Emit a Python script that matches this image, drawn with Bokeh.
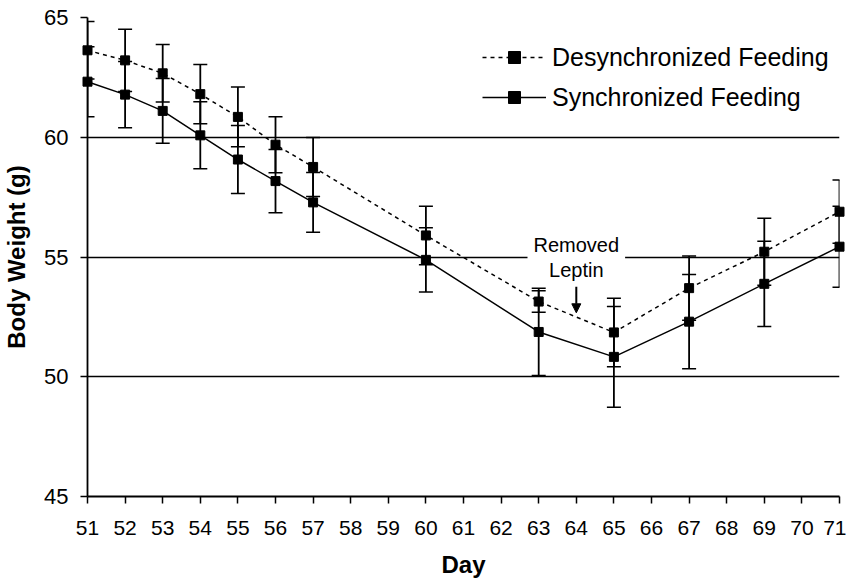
from bokeh.plotting import figure
from bokeh.models import (Range1d, FixedTicker, ColumnDataSource, Whisker,
                          TeeHead, Legend, LegendItem, Label, Arrow, NormalHead)
from bokeh.embed import file_html
from bokeh.resources import INLINE

days = [51, 52, 53, 54, 55, 56, 57, 60, 63, 65, 67, 69, 71]
desync = [63.63, 63.21, 62.67, 61.80, 60.85, 59.69, 58.76, 55.90, 53.14, 51.85, 53.70, 55.22, 56.89]
desync_err = [1.20, 1.30, 1.20, 1.24, 1.25, 1.17, 1.23, 1.22, 0.45, 1.43, 1.34, 1.40, 1.32]
sync = [62.32, 61.78, 61.10, 60.08, 59.07, 58.17, 57.28, 54.88, 51.87, 50.83, 52.30, 53.88, 55.43]
sync_err = [1.46, 1.38, 1.35, 1.40, 1.42, 1.32, 1.25, 1.34, 1.82, 2.10, 1.97, 1.78, 1.69]

x_ticks = list(range(51, 72))
y_ticks = [45, 50, 55, 60, 65]

FONT = "Liberation Sans"

p = figure(width=846, height=584,
           x_range=Range1d(x_ticks[0], x_ticks[-1]), y_range=Range1d(y_ticks[0], y_ticks[-1]),
           output_backend="svg", toolbar_location=None,
           min_border_left=81, min_border_right=7, min_border_top=17, min_border_bottom=88)
p.outline_line_color = None
p.xgrid.visible = False
p.ygrid.ticker = FixedTicker(ticks=y_ticks[1:])
p.ygrid.grid_line_color = "black"
p.ygrid.grid_line_width = 1.5

p.yaxis.ticker = FixedTicker(ticks=y_ticks)
p.xaxis.ticker = FixedTicker(ticks=x_ticks)
for ax in (p.xaxis, p.yaxis):
    ax.axis_line_color = "black"
    ax.axis_line_width = 1.8
    ax.major_tick_out = 7
    ax.major_tick_in = 0
    ax.major_tick_line_width = 1.5
    ax.major_tick_line_color = "black"
    ax.minor_tick_line_color = None
    ax.major_label_text_font = FONT
    ax.major_label_text_color = "black"
    ax.axis_label_text_font = FONT
    ax.axis_label_text_font_size = "24px"
    ax.axis_label_text_font_style = "bold"
    ax.axis_label_text_color = "black"

p.yaxis.major_label_text_font_size = "22px"
p.yaxis.major_label_standoff = 12
p.yaxis.axis_label = "Body Weight (g)"
p.yaxis.axis_label_standoff = 11

p.xaxis.major_label_text_font_size = "21px"
p.xaxis.major_label_standoff = 17
p.xaxis.axis_label = "Day"
p.xaxis.axis_label_standoff = 13

# error bars
src_d = ColumnDataSource(dict(x=days, y=desync,
                              lo=[v - e for v, e in zip(desync, desync_err)],
                              hi=[v + e for v, e in zip(desync, desync_err)]))
src_s = ColumnDataSource(dict(x=days, y=sync,
                              lo=[v - e for v, e in zip(sync, sync_err)],
                              hi=[v + e for v, e in zip(sync, sync_err)]))
for src in (src_d, src_s):
    w = Whisker(base="x", upper="hi", lower="lo", source=src, level="overlay",
                line_color="black", line_width=1.8,
                upper_head=TeeHead(size=14, line_color="black", line_width=1.5),
                lower_head=TeeHead(size=14, line_color="black", line_width=1.5))
    p.add_layout(w)

d_line = p.line("x", "y", source=src_d, line_color="black", line_width=1.5,
                line_dash="4 4", level="overlay")
s_line = p.line("x", "y", source=src_s, line_color="black", line_width=1.5, level="overlay")
d_sc = p.scatter("x", "y", source=src_d, marker="square", size=9, color="black", level="overlay")
s_sc = p.scatter("x", "y", source=src_s, marker="square", size=9, color="black", level="overlay")

legend = Legend(items=[LegendItem(label="Desynchronized Feeding", renderers=[d_line, d_sc]),
                       LegendItem(label="Synchronized Feeding", renderers=[s_line, s_sc])],
                location=(395, 384), glyph_width=64, glyph_height=30, label_height=30,
                spacing=10, padding=0, margin=0, label_standoff=6,
                border_line_color=None, background_fill_alpha=0,
                label_text_font=FONT, label_text_font_size="25px", label_text_color="black")
p.add_layout(legend)

# annotation
p.add_layout(Label(x=64, y=55.5, text="Removed", text_align="center", text_baseline="middle",
                   text_font=FONT, text_font_size="20px", text_color="black",
                   background_fill_color="white", padding=6))
p.add_layout(Label(x=64, y=54.46, text="Leptin", text_align="center", text_baseline="middle",
                   text_font=FONT, text_font_size="20px", text_color="black"))
p.add_layout(Arrow(x_start=64, y_start=53.76, x_end=64, y_end=52.67, line_width=2,
                   line_color="black",
                   end=NormalHead(size=9, fill_color="black", line_color="black")))

open("out.html", "w").write(file_html(p, INLINE))
